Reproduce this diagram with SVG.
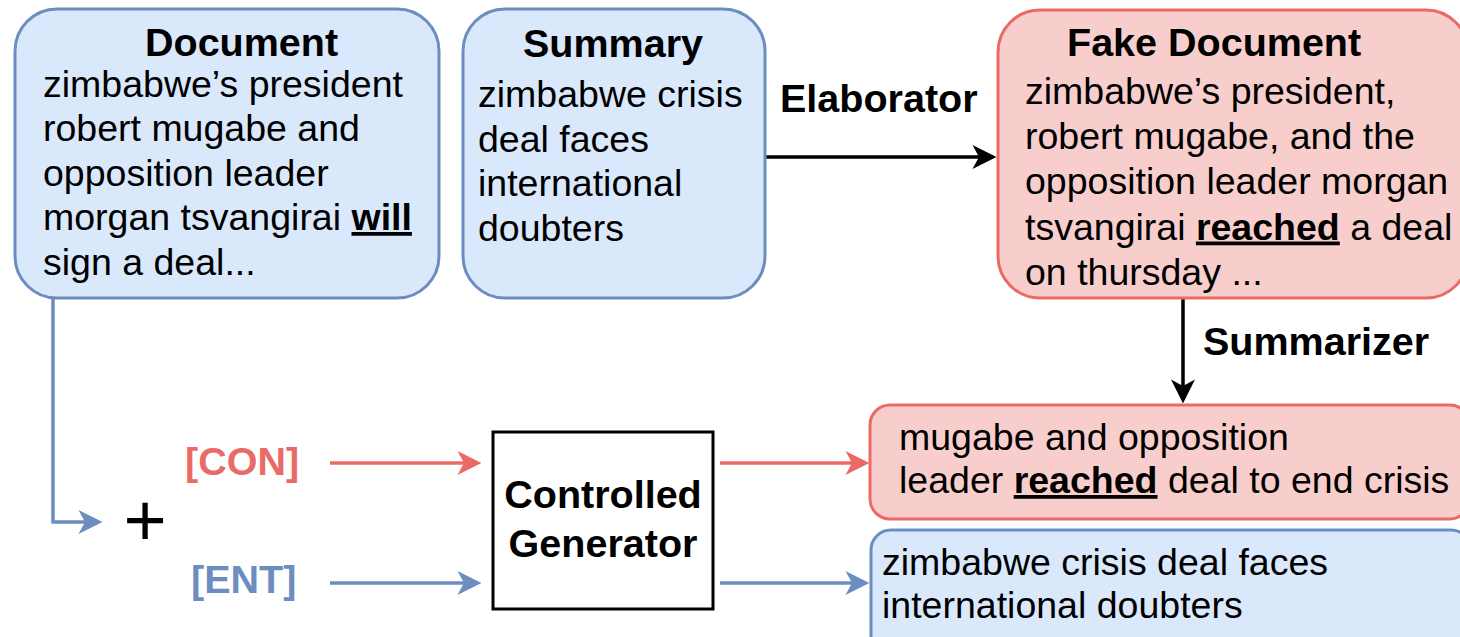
<svg xmlns="http://www.w3.org/2000/svg" width="1460" height="637" viewBox="0 0 1460 637">
<defs>
<style>
.blue{fill:#dae8fc;stroke:#6c8ebf;stroke-width:3}
.red{fill:#f8cecc;stroke:#ea6b66;stroke-width:3}
.t{font-family:"Liberation Sans",Arial,sans-serif;font-size:37.5px;fill:#000}
.h{font-family:"Liberation Sans",Arial,sans-serif;font-size:39.5px;font-weight:bold;fill:#000}
.b{font-weight:bold;text-decoration:underline}
.ln{fill:none;stroke-width:3.5}
</style>
<marker id="ak" markerUnits="userSpaceOnUse" markerWidth="24" markerHeight="24" refX="6" refY="11" orient="auto" viewBox="0 0 22 22"><path d="M0,0 L22,11 L0,22 L6,11 z" fill="#000"/></marker>
<marker id="ar" markerUnits="userSpaceOnUse" markerWidth="24" markerHeight="24" refX="6" refY="11" orient="auto" viewBox="0 0 22 22"><path d="M0,0 L22,11 L0,22 L6,11 z" fill="#ea6b66"/></marker>
<marker id="ab" markerUnits="userSpaceOnUse" markerWidth="24" markerHeight="24" refX="6" refY="11" orient="auto" viewBox="0 0 22 22"><path d="M0,0 L22,11 L0,22 L6,11 z" fill="#6c8ebf"/></marker>
</defs>
<rect width="1460" height="637" fill="#fff"/>

<g id="connectors">
<path class="ln" d="M765,157 H979" stroke="#000" marker-end="url(#ak)"/>
<path class="ln" d="M1183,298 V386" stroke="#000" marker-end="url(#ak)"/>
<path class="ln" d="M53,298 V522 H85" stroke="#6c8ebf" stroke-width="3" marker-end="url(#ab)"/>
<path class="ln" d="M330,463 H464" stroke="#ea6b66" marker-end="url(#ar)"/>
<path class="ln" d="M330,583 H464" stroke="#6c8ebf" marker-end="url(#ab)"/>
<path class="ln" d="M720,463 H852" stroke="#ea6b66" marker-end="url(#ar)"/>
<path class="ln" d="M720,583 H852" stroke="#6c8ebf" marker-end="url(#ab)"/>
<text class="h" x="780" y="112">Elaborator</text>
<text class="h" x="1203" y="355">Summarizer</text>
</g>

<g id="document">
<rect class="blue" x="15" y="9" width="424" height="289" rx="42"/>
<text class="h" x="145" y="56">Document</text>
<text class="t" x="43" y="96.5">zimbabwe’s president</text>
<text class="t" x="43" y="141">robert mugabe and</text>
<text class="t" x="43" y="185.5">opposition leader</text>
<text class="t" x="43" y="230">morgan tsvangirai <tspan class="b">will</tspan></text>
<text class="t" x="43" y="274.5">sign a deal...</text>
</g>

<g id="summary">
<rect class="blue" x="463" y="9" width="302" height="289" rx="42"/>
<text class="h" x="523" y="57">Summary</text>
<text class="t" x="478" y="107">zimbabwe crisis</text>
<text class="t" x="478" y="151.5">deal faces</text>
<text class="t" x="478" y="196">international</text>
<text class="t" x="478" y="240.5">doubters</text>
</g>

<g id="fake-document">
<rect class="red" x="998" y="10" width="470" height="288" rx="42"/>
<text class="h" x="1067" y="56">Fake Document</text>
<text class="t" x="1025" y="103.5">zimbabwe’s president,</text>
<text class="t" x="1025" y="148.5">robert mugabe, and the</text>
<text class="t" x="1025" y="194">opposition leader morgan</text>
<text class="t" x="1025" y="239.5">tsvangirai <tspan class="b">reached</tspan> a deal</text>
<text class="t" x="1025" y="284.5">on thursday ...</text>
</g>

<g id="plus">
<text x="145" y="546" text-anchor="middle" font-family="Liberation Sans, Arial, sans-serif" font-size="74" fill="#000">+</text>
</g>

<g id="con-token">
<text class="h" x="185" y="475" fill="#ea6b66" style="fill:#ea6b66">[CON]</text>
</g>

<g id="ent-token">
<text class="h" x="191" y="593" style="fill:#6c8ebf">[ENT]</text>
</g>

<g id="controlled-generator">
<rect x="493" y="432" width="220" height="177" fill="#fff" stroke="#000" stroke-width="3"/>
<text class="h" x="603" y="508" text-anchor="middle">Controlled</text>
<text class="h" x="603" y="557" text-anchor="middle">Generator</text>
</g>

<g id="con-summary">
<rect class="red" x="870" y="405" width="600" height="114" rx="20"/>
<text class="t" x="899" y="450">mugabe and opposition</text>
<text class="t" x="899" y="493">leader <tspan class="b">reached</tspan> deal to end crisis</text>
</g>

<g id="ent-summary">
<rect class="blue" x="871" y="530" width="600" height="130" rx="20"/>
<text class="t" x="882" y="575">zimbabwe crisis deal faces</text>
<text class="t" x="882" y="618">international doubters</text>
</g>
</svg>
